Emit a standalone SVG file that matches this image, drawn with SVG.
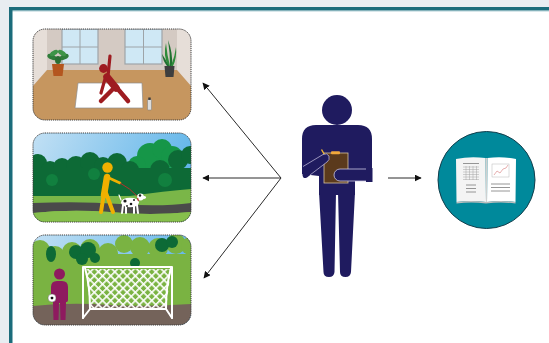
<svg xmlns="http://www.w3.org/2000/svg" width="549" height="343" viewBox="0 0 549 343">
  <defs>
    <style>
      .panel-edge { fill: none; stroke: #3a3a3a; stroke-width: 1; stroke-dasharray: 1.2 0.9; }
      .link { stroke: #2b2b2b; stroke-width: 1; fill: none; marker-end: url(#arrowhead); }
      .navy { fill: #1f1b5f; }
      .window-frame { fill: #cfe8f5; stroke: #9ea4a8; stroke-width: 1.2; }
      .window-bar { stroke: #9ea4a8; stroke-width: 1; }
      .goal { stroke: #ffffff; stroke-width: 2; fill: none; stroke-linecap: round; stroke-linejoin: round; }
      .page-line { stroke: #8a8a8a; stroke-width: 0.9; }
    </style>
    <marker id="arrowhead" viewBox="0 0 10 10" refX="9" refY="5" markerWidth="7" markerHeight="7" markerUnits="userSpaceOnUse" orient="auto">
      <path d="M0 0 L10 5 L0 10 Z" fill="#111"/>
    </marker>
    <linearGradient id="sky" x1="0" y1="0" x2="1" y2="0.3">
      <stop offset="0" stop-color="#c2e0f4"/>
      <stop offset="1" stop-color="#62b6ea"/>
    </linearGradient>
    <pattern id="net" width="5.8" height="5.8" patternUnits="userSpaceOnUse" patternTransform="rotate(45)">
      <rect x="0" y="0" width="5.8" height="1.6" fill="#ffffff"/>
      <rect x="0" y="0" width="1.6" height="5.8" fill="#ffffff"/>
    </pattern>
    <clipPath id="clip-yoga"><rect x="33" y="29" width="158" height="91" rx="12"/></clipPath>
    <clipPath id="clip-walk"><rect x="33" y="133" width="158" height="89" rx="12"/></clipPath>
    <clipPath id="clip-soccer"><rect x="33" y="235" width="158" height="90" rx="12"/></clipPath>
  </defs>

  <!-- page background and frame -->
  <rect x="0" y="0" width="549" height="343" fill="#e8edf1"/>
  <rect x="11" y="9" width="538" height="334" fill="#ffffff"/>
  <rect x="9" y="7" width="540" height="3.5" fill="#1b6c7b"/>
  <rect x="9" y="10.5" width="540" height="0.8" fill="#7fb0b9"/>
  <rect x="9" y="7" width="3.5" height="336" fill="#1b6c7b"/>

  <!-- indoor exercise scene -->
  <g id="panel-yoga">
    <g clip-path="url(#clip-yoga)">
      <rect x="33" y="29" width="158" height="91" fill="#d4cac3"/>
      <polygon points="33,29 47,29 47,70 33,86" fill="#e6ded8"/>
      <polygon points="177,29 191,29 191,86 177,70" fill="#e6ded8"/>
      <polygon points="47,70 177,70 191,86 191,120 33,120 33,86" fill="#c6965f"/>
      <!-- windows -->
      <rect class="window-frame" x="62" y="29" width="36" height="35"/>
      <line class="window-bar" x1="80" y1="29" x2="80" y2="64"/>
      <line class="window-bar" x1="62" y1="47" x2="98" y2="47"/>
      <rect class="window-frame" x="125" y="29" width="37" height="35"/>
      <line class="window-bar" x1="143.5" y1="29" x2="143.5" y2="64"/>
      <line class="window-bar" x1="125" y1="47" x2="162" y2="47"/>
      <!-- potted plant, left -->
      <polygon points="52,64 64,64 62.5,76 53.5,76" fill="#b4561f"/>
      <ellipse cx="52" cy="57" rx="5" ry="2.6" fill="#2f7d3a" transform="rotate(25 52 57)"/>
      <ellipse cx="64" cy="57" rx="5" ry="2.6" fill="#2f7d3a" transform="rotate(-25 64 57)"/>
      <ellipse cx="54" cy="53" rx="4.5" ry="2.3" fill="#3d9447" transform="rotate(-30 54 53)"/>
      <ellipse cx="62" cy="53" rx="4.5" ry="2.3" fill="#3d9447" transform="rotate(30 62 53)"/>
      <ellipse cx="58" cy="60" rx="3" ry="4" fill="#2a6f34"/>
      <!-- potted plant, right -->
      <polygon points="164.5,66 174.5,66 173.5,77 165.5,77" fill="#3e3e3e"/>
      <path d="M168 66 Q163 55 166 43 Q167 55 170 66 Z" fill="#2e8b3a"/>
      <path d="M170 66 Q170 52 168 40 Q173 53 172 66 Z" fill="#1f7030"/>
      <path d="M171 66 Q175 56 176 47 Q177 58 173 66 Z" fill="#2e8b3a"/>
      <path d="M167 66 Q163 61 162 54 Q166 60 169 66 Z" fill="#1f7030"/>
      <!-- mat -->
      <polygon points="78,83 142,83 143,108 75,108" fill="#ffffff" stroke="#8d8d8d" stroke-width="0.7"/>
      <!-- figure in triangle pose -->
      <g stroke="#9e1c21" stroke-linecap="round" fill="none">
        <line x1="108" y1="76" x2="110" y2="56" stroke-width="3.2"/>
        <line x1="107" y1="77" x2="116" y2="88" stroke-width="7.5"/>
        <line x1="105" y1="79" x2="101" y2="93" stroke-width="3.2"/>
        <line x1="114" y1="88" x2="101" y2="101" stroke-width="4.5"/>
        <line x1="117" y1="88" x2="128" y2="101" stroke-width="4.5"/>
      </g>
      <circle cx="103.5" cy="68.5" r="4.4" fill="#9e1c21"/>
      <!-- water bottle -->
      <rect x="147.5" y="99.5" width="4" height="10.5" rx="0.8" fill="#dcdcdc" stroke="#7a7a7a" stroke-width="0.5"/>
      <rect x="148.3" y="97.5" width="2.4" height="2.4" fill="#3b3b3b"/>
    </g>
    <rect class="panel-edge" x="33" y="29" width="158" height="91" rx="12"/>
  </g>

  <!-- dog walking scene -->
  <g id="panel-walk">
    <g clip-path="url(#clip-walk)">
      <rect x="33" y="133" width="158" height="89" fill="url(#sky)"/>
      <!-- lighter tree line -->
      <g fill="#169648">
        <circle cx="150" cy="156" r="13"/>
        <circle cx="162" cy="149" r="10"/>
        <circle cx="172" cy="157" r="11"/>
        <circle cx="137" cy="165" r="9"/>
      </g>
      <!-- darker tree line -->
      <g fill="#0d6a36">
        <circle cx="38" cy="163" r="9"/>
        <circle cx="50" cy="170" r="9"/>
        <circle cx="62" cy="167" r="9"/>
        <circle cx="76" cy="166" r="10"/>
        <circle cx="90" cy="162" r="10"/>
        <circle cx="103" cy="166" r="9"/>
        <circle cx="117" cy="163" r="10"/>
        <circle cx="130" cy="170" r="9"/>
        <circle cx="142" cy="176" r="8"/>
        <circle cx="160" cy="170" r="10"/>
        <circle cx="178" cy="160" r="10"/>
        <circle cx="190" cy="155" r="9"/>
        <rect x="33" y="168" width="158" height="35"/>
      </g>
      <g fill="#11803f">
        <circle cx="94" cy="174" r="6"/>
        <circle cx="52" cy="180" r="6"/>
        <circle cx="165" cy="180" r="7"/>
      </g>
      <!-- grass and path -->
      <path d="M33 196 Q90 196 130 196 Q165 191 191 189 L191 222 L33 222 Z" fill="#7ab648"/>
      <path d="M33 203 Q80 201 120 204 Q160 207 191 203 L191 212 Q150 216 110 212 Q70 209 33 213 Z" fill="#4a4a4a"/>
      <path d="M33 213 Q70 209 110 212 Q150 216 191 212 L191 222 L33 222 Z" fill="#86bf4c"/>
      <!-- walker -->
      <g stroke="#f0b000" stroke-linecap="round" stroke-linejoin="round" fill="none">
        <line x1="107" y1="177" x2="104" y2="195" stroke-width="6.5"/>
        <line x1="109" y1="178" x2="120" y2="183" stroke-width="2.6"/>
        <line x1="104" y1="193" x2="101" y2="212" stroke-width="4"/>
        <line x1="106" y1="193" x2="113" y2="212" stroke-width="4"/>
      </g>
      <circle cx="107.5" cy="167.5" r="5.2" fill="#f0b000"/>
      <!-- leash -->
      <path d="M120 183 Q130 188 138 197" stroke="#c42a2e" stroke-width="0.9" fill="none"/>
      <!-- dog -->
      <g>
        <g stroke="#ffffff" stroke-width="2" stroke-linecap="round">
          <line x1="123" y1="205" x2="122" y2="213"/>
          <line x1="126" y1="205" x2="126" y2="213"/>
          <line x1="134" y1="205" x2="134" y2="213"/>
          <line x1="137" y1="205" x2="138" y2="213"/>
          <line x1="121" y1="200" x2="119" y2="195" stroke-width="1.2"/>
        </g>
        <ellipse cx="130" cy="202.5" rx="9" ry="4.8" fill="#ffffff"/>
        <circle cx="140.5" cy="197" r="3.4" fill="#ffffff"/>
        <ellipse cx="144" cy="197.5" rx="2" ry="1.4" fill="#ffffff"/>
        <circle cx="125" cy="201" r="1.6" fill="#1b1b1b"/>
        <circle cx="131" cy="204" r="1.3" fill="#1b1b1b"/>
        <circle cx="134" cy="200" r="1" fill="#1b1b1b"/>
        <circle cx="127" cy="206" r="0.9" fill="#1b1b1b"/>
        <circle cx="140" cy="195.5" r="1.2" fill="#1b1b1b"/>
        <line x1="137.5" y1="198" x2="138.5" y2="201" stroke="#c42a2e" stroke-width="1.2"/>
      </g>
    </g>
    <rect class="panel-edge" x="33" y="133" width="158" height="89" rx="12"/>
  </g>

  <!-- soccer scene -->
  <g id="panel-soccer">
    <g clip-path="url(#clip-soccer)">
      <rect x="33" y="235" width="158" height="90" fill="url(#sky)"/>
      <!-- light green tree line -->
      <g fill="#7ab342">
        <circle cx="40" cy="250" r="10"/>
        <circle cx="55" cy="256" r="10"/>
        <circle cx="72" cy="252" r="10"/>
        <circle cx="90" cy="249" r="10"/>
        <circle cx="108" cy="253" r="10"/>
        <circle cx="124" cy="244" r="9"/>
        <circle cx="140" cy="247" r="10"/>
        <circle cx="158" cy="248" r="10"/>
        <circle cx="176" cy="244" r="10"/>
        <circle cx="190" cy="246" r="9"/>
        <rect x="33" y="254" width="158" height="60"/>
      </g>
      <!-- dark green foliage -->
      <g fill="#0d6a36">
        <ellipse cx="51" cy="254" rx="5" ry="8"/>
        <circle cx="76" cy="252" r="7"/>
        <circle cx="88" cy="250" r="8"/>
        <circle cx="82" cy="259" r="6"/>
        <circle cx="95" cy="258" r="5"/>
        <circle cx="162" cy="245" r="7"/>
        <circle cx="172" cy="242" r="6"/>
        <circle cx="135" cy="263" r="5"/>
      </g>
      <!-- ground -->
      <path d="M33 306 Q70 302 110 305 Q150 307 191 304 L191 325 L33 325 Z" fill="#74635a"/>
      <!-- goal net -->
      <polygon points="85,269 171,269 166,309 91,309" fill="url(#net)"/>
      <path class="goal" d="M83 318 L83 267 L172 267 L172 318"/>
      <path class="goal" d="M85 268 Q90 285 90 309 L166 309 Q166 285 171 268" stroke-width="1.5"/>
      <path class="goal" d="M83 318 L90 309 M172 318 L166 309" stroke-width="1.3"/>
      <!-- player -->
      <g class="player" fill="#8e1a5f">
        <circle cx="59.5" cy="274" r="5.5"/>
        <path d="M51 300 L51 287 Q51 281 57 281 L62 281 Q68 281 68 287 L68 300 Q68 302 66.5 302 L66 302 L65.5 320 L60.5 320 L60 303 L59 303 L58.5 320 L53.5 320 L53 302 Q51 302 51 300 Z"/>
      </g>
      <circle cx="52" cy="298" r="4" fill="#ffffff" stroke="#555" stroke-width="0.4"/>
      <polygon points="52,296.5 53.5,297.6 53,299.3 51,299.3 50.5,297.6" fill="#111"/>
    </g>
    <rect class="panel-edge" x="33" y="235" width="158" height="90" rx="12"/>
  </g>

  <!-- researcher with clipboard -->
  <g id="researcher">
    <circle class="navy" cx="337" cy="110" r="15"/>
    <path class="navy" d="M302 174 L302 139 Q302 125 316 125 L358 125 Q372 125 372 139 L372 176 L355 176 L355 195 L319 195 L319 176 Z"/>
    <path class="navy" d="M319 192 L336 192 L334.5 272 Q334 277 329 277 Q323.5 277 323.5 272 Z"/>
    <path class="navy" d="M338 192 L355 192 L351 272 Q350.5 277 345.5 277 Q340 277 340 272 Z"/>
    <!-- clipboard -->
    <rect x="324" y="153" width="24" height="30" fill="#5b3a1c" stroke="#d7c29f" stroke-width="0.8"/>
    <rect x="331" y="151.3" width="9" height="3" rx="1" fill="#f2a93b"/>
    <!-- pen and left forearm -->
    <line x1="321.5" y1="149.5" x2="326.5" y2="158" stroke="#f2b632" stroke-width="1.4"/>
    <path class="navy" d="M303 166.5 L323 154.5 Q327 152.5 329 156 Q330 160 327 162 L307 177.5 Q303 179.5 302.5 175 Z"/>
    <path d="M303 166.5 L323 154.5 Q327 152.5 329 156 Q330 160 327 162 L310 175" fill="none" stroke="#cbc6e2" stroke-width="0.7"/>
    <!-- right forearm -->
    <path class="navy" d="M372 169 L340 169 A6 6 0 0 0 340 181 L372 181" stroke="#cbc6e2" stroke-width="0.8"/>
    <rect class="navy" x="366" y="168" width="6.5" height="14"/>
  </g>

  <!-- report in circle -->
  <g id="report">
    <circle cx="486.5" cy="180" r="48.5" fill="#00899b" stroke="#123e4c" stroke-width="1"/>
    <path d="M456 159 Q470 156 485.5 158 L486 202 Q471 200 456.5 202 Z" fill="#f4f4f4"/>
    <path d="M487.5 158 Q502 156 516 159 L515.5 202 Q501 200 487 202 Z" fill="#ffffff"/>
    <path d="M485.5 158 L487.5 158 L487 202 L486 202 Z" fill="#d0d0d0"/>
    <path d="M456.5 202 Q471 200 486 202 Q501 200 515.5 202 L515.5 203.5 Q501 201.5 486 203.5 Q471 201.5 456.5 203.5 Z" fill="#bdbdbd"/>
    <!-- left page: table -->
    <line class="page-line" x1="463" y1="163.5" x2="479" y2="163.5" stroke-width="1.1"/>
    <g stroke="#a5a5a5" stroke-width="0.5">
      <line x1="463" y1="167" x2="479" y2="167"/>
      <line x1="463" y1="169.5" x2="479" y2="169.5"/>
      <line x1="463" y1="172" x2="479" y2="172"/>
      <line x1="463" y1="174.5" x2="479" y2="174.5"/>
      <line x1="463" y1="177" x2="479" y2="177"/>
      <line x1="463" y1="179.5" x2="479" y2="179.5"/>
      <line x1="466" y1="166" x2="466" y2="180"/>
      <line x1="469.5" y1="166" x2="469.5" y2="180"/>
      <line x1="473" y1="166" x2="473" y2="180"/>
      <line x1="476.5" y1="166" x2="476.5" y2="180"/>
    </g>
    <line class="page-line" x1="466" y1="185" x2="476" y2="185"/>
    <line class="page-line" x1="466" y1="188.5" x2="476" y2="188.5"/>
    <line class="page-line" x1="466" y1="192" x2="476" y2="192"/>
    <!-- right page: chart -->
    <rect x="492" y="164" width="17" height="13" fill="#ffffff" stroke="#b9b9b9" stroke-width="0.5"/>
    <polyline points="494,175 497,171 500,173 503,169 506,168 508,165" fill="none" stroke="#d67a7a" stroke-width="0.6"/>
    <line class="page-line" x1="491" y1="184" x2="510" y2="184"/>
    <line class="page-line" x1="491" y1="187.5" x2="510" y2="187.5"/>
    <line class="page-line" x1="491" y1="191" x2="510" y2="191"/>
  </g>

  <!-- connectors -->
  <g id="connectors">
    <line class="link" x1="281" y1="178" x2="203" y2="83"/>
    <line class="link" x1="281" y1="178" x2="203" y2="178"/>
    <line class="link" x1="281" y1="178" x2="204" y2="278"/>
    <line class="link" x1="388" y1="178" x2="421" y2="178"/>
  </g>
</svg>
